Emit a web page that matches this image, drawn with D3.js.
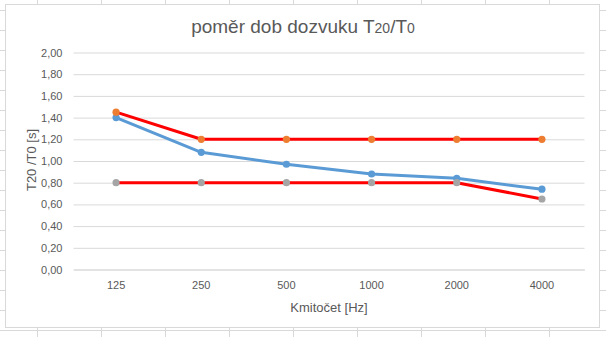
<!DOCTYPE html>
<html>
<head>
<meta charset="utf-8">
<script src="https://cdn.jsdelivr.net/npm/d3@7"></script>
<style>
  html, body { margin: 0; padding: 0; background: #fff; }
  svg { display: block; font-family: "Liberation Sans", Arial, sans-serif; }
</style>
</head>
<body>
<svg id="chart" width="606" height="337"></svg>
<script>
// Octave-band centre frequencies
const categories = ["125", "250", "500", "1000", "2000", "4000"];
// Measured ratio T20/T0
const measured = [1.40, 1.08, 0.97, 0.88, 0.84, 0.74];
// Upper tolerance limit
const upperLimit = [1.45, 1.20, 1.20, 1.20, 1.20, 1.20];
// Lower tolerance limit
const lowerLimit = [0.80, 0.80, 0.80, 0.80, 0.80, 0.65];
// Value axis ticks
const yTicks = [0, 0.2, 0.4, 0.6, 0.8, 1.0, 1.2, 1.4, 1.6, 1.8, 2.0];

const series = [
  { name: "measured", values: measured, line: "#5b9bd5", marker: "#5b9bd5" },
  { name: "upper", values: upperLimit, line: "#ff0000", marker: "#ed7d31" },
  { name: "lower", values: lowerLimit, line: "#ff0000", marker: "#a5a5a5" }
];

const W = 606, H = 337;
const svg = d3.select("#chart");

// Worksheet cell grid behind the chart object
const sheet = svg.append("g").attr("stroke", "#d9d9d9").attr("stroke-width", 1);
d3.range(37.5, W, 64).forEach(x =>
  sheet.append("line").attr("x1", x).attr("x2", x).attr("y1", 0).attr("y2", H));
d3.range(10.5, H, 20).forEach(y =>
  sheet.append("line").attr("x1", 0).attr("x2", W).attr("y1", y).attr("y2", y));

// Chart object frame
svg.append("rect")
  .attr("x", 5.5).attr("y", 4.5).attr("width", 594).attr("height", 323)
  .attr("fill", "#fff").attr("stroke", "#d9d9d9").attr("stroke-width", 1);

const plot = { left: 73.5, right: 584.5, top: 52.5, bottom: 269.5 };

const x = d3.scaleBand().domain(categories).range([plot.left, plot.right]).padding(0);
const y = d3.scaleLinear().domain([0, 2]).range([plot.bottom, plot.top]);
const cx = c => x(c) + x.bandwidth() / 2;

const fmt = v => d3.format(".2f")(v).replace(".", ",");

// Value axis with horizontal gridlines
const yAxis = svg.append("g")
  .attr("transform", `translate(${plot.left},0)`)
  .call(d3.axisLeft(y).tickValues(yTicks).tickFormat(fmt)
    .tickSize(-(plot.right - plot.left)).tickPadding(11));
yAxis.select(".domain").remove();
yAxis.selectAll(".tick line").attr("stroke", "#d9d9d9");
yAxis.selectAll(".tick text")
  .attr("fill", "#595959").attr("font-size", 11)
  .attr("font-family", "Liberation Sans, Arial, sans-serif");

// Category axis
const xAxis = svg.append("g")
  .attr("transform", `translate(0,${plot.bottom})`)
  .call(d3.axisBottom(x).tickSize(0).tickPadding(12));
xAxis.select(".domain").attr("stroke", "#d9d9d9");
xAxis.selectAll(".tick text")
  .attr("fill", "#595959").attr("font-size", 11)
  .attr("font-family", "Liberation Sans, Arial, sans-serif");

// Series lines and markers
const line = d3.line().x((d, i) => cx(categories[i])).y(d => y(d));
series.forEach(s => {
  svg.append("path")
    .attr("d", line(s.values))
    .attr("fill", "none")
    .attr("stroke", s.line)
    .attr("stroke-width", 3)
    .attr("stroke-linejoin", "round")
    .attr("stroke-linecap", "round");
});
series.forEach(s => {
  svg.append("g").selectAll("circle")
    .data(s.values)
    .join("circle")
    .attr("cx", (d, i) => cx(categories[i]))
    .attr("cy", d => y(d))
    .attr("r", 3.6)
    .attr("fill", s.marker);
});

// Chart title
const title = svg.append("text")
  .attr("x", 303).attr("y", 33)
  .attr("text-anchor", "middle")
  .attr("fill", "#595959")
  .attr("font-size", 19);
title.append("tspan").text("poměr dob dozvuku T");
title.append("tspan").attr("font-size", 14).text("20");
title.append("tspan").text("/T");
title.append("tspan").attr("font-size", 14).text("0");

// Axis titles
svg.append("text")
  .attr("transform", "translate(35.5,160) rotate(-90)")
  .attr("text-anchor", "middle")
  .attr("fill", "#595959").attr("font-size", 13)
  .text("T20 /T0 [s]");

svg.append("text")
  .attr("x", 329).attr("y", 312)
  .attr("text-anchor", "middle")
  .attr("fill", "#595959").attr("font-size", 13)
  .text("Kmitočet [Hz]");
</script>
</body>
</html>
